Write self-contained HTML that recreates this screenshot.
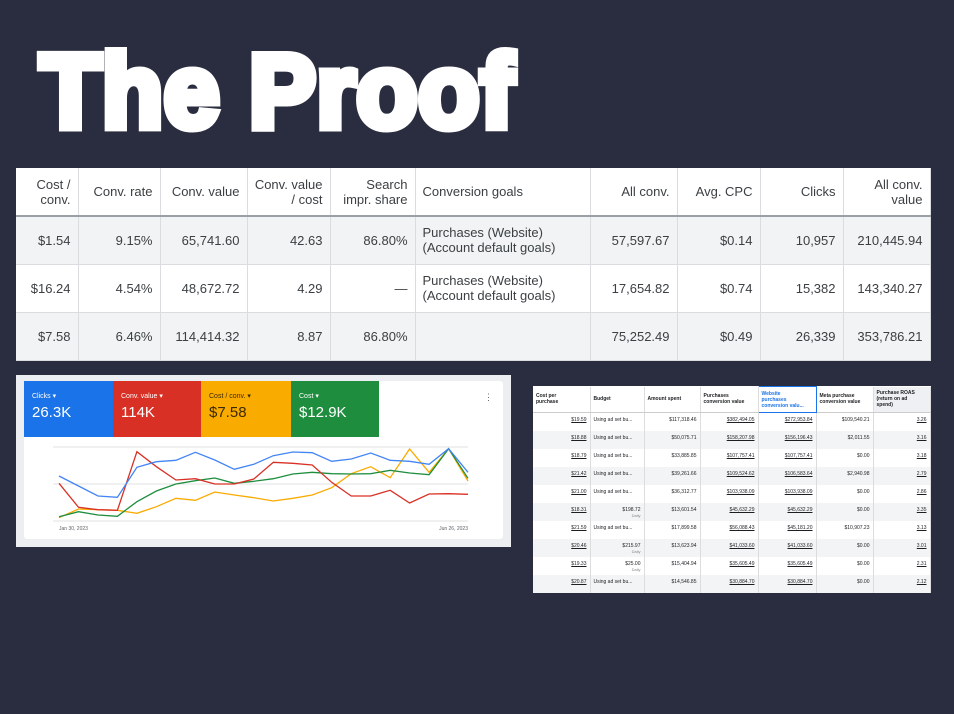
<!DOCTYPE html><html><head><meta charset="utf-8"><style>
*{margin:0;padding:0;box-sizing:border-box}
body{width:954px;height:714px;background:#2a2d3f;position:relative;overflow:hidden;font-family:"Liberation Sans",Arial,sans-serif}
.title{position:absolute;left:40px;top:40px;font-size:104px;font-weight:bold;color:#fff;-webkit-text-stroke:9px #fff;transform:scaleX(.96);transform-origin:0 0;line-height:1;white-space:nowrap;letter-spacing:1px}
table{border-collapse:collapse;position:absolute;table-layout:fixed}
#t1{left:16px;top:168px;width:914px;height:191px;background:#fff;font-size:13px;color:#3c4043}
#t1 td,#t1 th{border-right:1px solid #dadce0;border-bottom:1px solid #dadce0;padding:0 7px;text-align:right;font-weight:normal}
#t1 th{height:48px;border-bottom:2px solid #9aa0a6;line-height:15px}
#t1 tr.g td{background:#f1f3f4}
#t1 td{height:48px;line-height:15px}
#t1 .l{text-align:left}
#t2{left:533px;top:386px;width:397px;height:207px;background:#fff;font-size:5px;color:#1c1e21}
#t2 th{height:26px;text-align:left;font-weight:bold;padding:0 3px;border-right:1px solid #ddd;border-bottom:1px solid #ccc;font-size:5px;line-height:6px}
#t2 td{height:18px;text-align:right;padding:0 3px;border-right:1px solid #ddd;vertical-align:top;padding-top:4px}
#t2 tr:nth-child(odd) td{background:#f3f4f6}
#t2 td.u{text-decoration:underline}
#t2 td.b{text-align:left}
</style></head><body>
<div class="title">The Proof</div>
<table id="t1">
<colgroup><col style="width:62px"><col style="width:82px"><col style="width:87px"><col style="width:83px"><col style="width:85px"><col style="width:175px"><col style="width:87px"><col style="width:83px"><col style="width:83px"><col style="width:87px"></colgroup>
<tr><th>Cost /<br>conv.</th><th>Conv. rate</th><th>Conv. value</th><th style="white-space:nowrap">Conv. value<br>/ cost</th><th>Search<br>impr. share</th><th class="l">Conversion goals</th><th>All conv.</th><th>Avg. CPC</th><th>Clicks</th><th>All conv.<br>value</th></tr>
<tr class="g"><td>$1.54</td><td>9.15%</td><td>65,741.60</td><td>42.63</td><td>86.80%</td><td class="l">Purchases (Website)<br>(Account default goals)</td><td>57,597.67</td><td>$0.14</td><td>10,957</td><td>210,445.94</td></tr>
<tr><td>$16.24</td><td>4.54%</td><td>48,672.72</td><td>4.29</td><td>—</td><td class="l">Purchases (Website)<br>(Account default goals)</td><td>17,654.82</td><td>$0.74</td><td>15,382</td><td>143,340.27</td></tr>
<tr class="g"><td>$7.58</td><td>6.46%</td><td>114,414.32</td><td>8.87</td><td>86.80%</td><td class="l"></td><td>75,252.49</td><td>$0.49</td><td>26,339</td><td>353,786.21</td></tr>
</table>

<div style="position:absolute;left:16px;top:375px;width:495px;height:172px;background:#eceef1"></div>
<div style="position:absolute;left:24px;top:381px;width:479px;height:158px;background:#fff;border-radius:3px"></div>
<div style="position:absolute;left:24px;top:381px;width:89px;height:56px;background:#1a73e8;color:#fff;padding:11px 8px"><div style="font-size:7px">Clicks ▾</div><div style="font-size:15px;margin-top:4px">26.3K</div></div>
<div style="position:absolute;left:113px;top:381px;width:88px;height:56px;background:#d93025;color:#fff;padding:11px 8px"><div style="font-size:7px">Conv. value ▾</div><div style="font-size:15px;margin-top:4px">114K</div></div>
<div style="position:absolute;left:201px;top:381px;width:90px;height:56px;background:#f9ab00;color:#3c2a00;padding:11px 8px"><div style="font-size:7px">Cost / conv. ▾</div><div style="font-size:15px;margin-top:4px">$7.58</div></div>
<div style="position:absolute;left:291px;top:381px;width:88px;height:56px;background:#1e8e3e;color:#fff;padding:11px 8px"><div style="font-size:7px">Cost ▾</div><div style="font-size:15px;margin-top:4px">$12.9K</div></div>
<div style="position:absolute;left:484px;top:392px;font-size:9px;color:#5f6368">⋮</div>
<svg style="position:absolute;left:0;top:0" width="954" height="714">
<g stroke="#e0e0e0" stroke-width="1"><line x1="53" y1="447" x2="468" y2="447"/><line x1="53" y1="484" x2="468" y2="484"/><line x1="53" y1="521" x2="468" y2="521"/></g>
<g fill="none" stroke-width="1.3">
<polyline stroke="#f9ab00" points="59,517.7 78.5,509 98,509.7 117.4,510.3 136.9,513.3 156.4,506.7 175.9,498.3 195.4,500.3 214.8,492 234.3,495 253.8,497.7 273.3,501 292.8,498.3 312.2,495 331.7,487.7 351.2,473.7 370.7,466.7 390.2,477.7 409.6,449 429.1,472.3 448.6,448.7 468,481"/>
<polyline stroke="#1e8e3e" points="59,516.7 78.5,511.7 98,515 117.4,516.3 136.9,501.7 156.4,491 175.9,484 195.4,480.7 214.8,478 234.3,483.3 253.8,481.3 273.3,478.7 292.8,474 312.2,472.3 331.7,473.7 351.2,474 370.7,473.7 390.2,470.3 409.6,473 429.1,474.7 448.6,448.7 468,478.3"/>
<polyline stroke="#d93025" points="59,483.3 78.5,507.3 98,509.7 117.4,510.3 136.9,451.7 156.4,466.7 175.9,480 195.4,478.7 214.8,484 234.3,484 253.8,479 273.3,462.3 292.8,463.3 312.2,465 331.7,482.3 351.2,496 370.7,496 390.2,490.3 409.6,503 429.1,494 448.6,493.7 468,494.3"/>
<polyline stroke="#4285f4" points="59,476 78.5,486 98,496 117.4,497.3 136.9,467.3 156.4,461.7 175.9,460.3 195.4,452.3 214.8,460 234.3,469.3 253.8,464.3 273.3,455.7 292.8,452 312.2,452.7 331.7,461.3 351.2,459 370.7,453 390.2,460.3 409.6,461.3 429.1,464.3 448.6,448.7 468,472.3"/>
</g>
<text x="59" y="530" font-size="5" fill="#5f6368" font-family="Liberation Sans">Jan 30, 2023</text>
<text x="468" y="530" font-size="5" fill="#5f6368" text-anchor="end" font-family="Liberation Sans">Jun 26, 2023</text>
</svg>

<table id="t2">
<colgroup><col style="width:57px"><col style="width:54px"><col style="width:56px"><col style="width:58px"><col style="width:58px"><col style="width:57px"><col style="width:57px"></colgroup>
<tr><th>Cost per<br>purchase</th><th>Budget</th><th>Amount spent</th><th>Purchases<br>conversion value</th><th style="color:#1a73e8;border:1px solid #1a73e8">Website<br>purchases<br>conversion valu...</th><th>Meta purchase<br>conversion value</th><th style="background:#eef0f3">Purchase ROAS<br>(return on ad<br>spend)</th></tr>
<tr><td class="u">$19.59</td><td class="b">Using ad set bu...</td><td>$117,318.46</td><td class="u">$382,494.05</td><td class="u">$272,953.84</td><td>$109,540.21</td><td class="u">3.26</td></tr>
<tr><td class="u">$18.88</td><td class="b">Using ad set bu...</td><td>$50,075.71</td><td class="u">$158,207.98</td><td class="u">$156,196.43</td><td>$2,011.55</td><td class="u">3.16</td></tr>
<tr><td class="u">$18.79</td><td class="b">Using ad set bu...</td><td>$33,885.85</td><td class="u">$107,757.41</td><td class="u">$107,757.41</td><td>$0.00</td><td class="u">3.18</td></tr>
<tr><td class="u">$21.42</td><td class="b">Using ad set bu...</td><td>$39,261.66</td><td class="u">$109,524.62</td><td class="u">$106,583.64</td><td>$2,940.98</td><td class="u">2.79</td></tr>
<tr><td class="u">$21.00</td><td class="b">Using ad set bu...</td><td>$36,312.77</td><td class="u">$103,938.09</td><td class="u">$103,938.09</td><td>$0.00</td><td class="u">2.86</td></tr>
<tr><td class="u">$18.31</td><td>$198.72<br><span style="color:#888;font-size:4px">Daily</span></td><td>$13,601.54</td><td class="u">$45,632.29</td><td class="u">$45,632.29</td><td>$0.00</td><td class="u">3.35</td></tr>
<tr><td class="u">$21.59</td><td class="b">Using ad set bu...</td><td>$17,899.58</td><td class="u">$56,088.43</td><td class="u">$45,181.20</td><td>$10,907.23</td><td class="u">3.13</td></tr>
<tr><td class="u">$20.46</td><td>$215.97<br><span style="color:#888;font-size:4px">Daily</span></td><td>$13,623.94</td><td class="u">$41,033.60</td><td class="u">$41,033.60</td><td>$0.00</td><td class="u">3.01</td></tr>
<tr><td class="u">$19.33</td><td>$25.00<br><span style="color:#888;font-size:4px">Daily</span></td><td>$15,404.94</td><td class="u">$35,605.49</td><td class="u">$35,605.49</td><td>$0.00</td><td class="u">2.31</td></tr>
<tr><td class="u">$20.87</td><td class="b">Using ad set bu...</td><td>$14,546.85</td><td class="u">$30,884.70</td><td class="u">$30,884.70</td><td>$0.00</td><td class="u">2.12</td></tr>
</table>
</body></html>
